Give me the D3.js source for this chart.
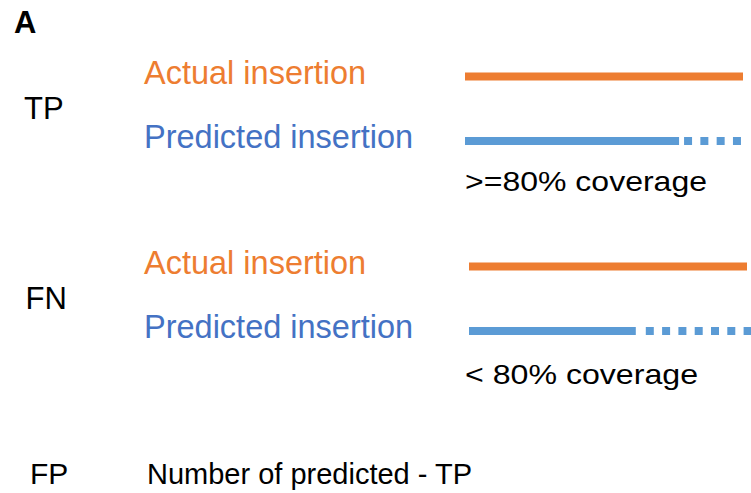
<!DOCTYPE html>
<html>
<head>
<meta charset="utf-8">
<script src="https://cdn.jsdelivr.net/npm/d3@7"></script>
<style>
  body { margin: 0; background: #fff; }
  text { font-family: "Liberation Sans", Arial, sans-serif; }
</style>
</head>
<body>
<svg id="chart" width="751" height="493"></svg>
<script>
// panel + row names
const panelLabel = "A";
const rowNames = ["TP", "FN", "FP"];
const lineNames = ["Actual insertion", "Predicted insertion"];
// share of the actual insertion covered by the prediction (solid part)
const coveredShare = [0.77, 0.60];
// where the dotted tail of the prediction stops
const tailEnd = [1.0, 1.04];
const coverageNotes = [">=80% coverage", "< 80% coverage"];
const fpNote = "Number of predicted - TP";

const orange = "#ED7D31";
const blueText = "#4472C4";
const blueLine = "#5B9BD5";

const svg = d3.select("#chart");

// vertical offset of each case block, and a small horizontal nudge for its lines
const rowTop = [0, 190];
const lineShift = [0, 4];

svg.append("text")
    .attr("x", 14)
    .attr("y", 33)
    .attr("font-size", 31)
    .attr("font-weight", "bold")
    .text(panelLabel);

rowNames.slice(0, 2).forEach(function (name, i) {
    let g = svg.append("g")
        .attr("transform", "translate(0," + rowTop[i] + ")");

    // x scale: 0 = start of the actual insertion, 1 = its end
    let x = d3.scaleLinear().domain([0, 1]).range([465, 743].map(v => v + lineShift[i]));

    g.append("text")
        .attr("x", 24 + i * 1.5)
        .attr("y", 118.5)
        .attr("font-size", 31)
        .attr("fill", "#000")
        .text(name);

    g.selectAll("text.lab")
        .data(lineNames)
        .enter()
        .append("text")
        .attr("class", "lab")
        .attr("x", 144)
        .attr("y", function (d, j) { return 84 + j * 64; })
        .attr("font-size", 32.5)
        .attr("fill", function (d, j) { return j === 0 ? orange : blueText; })
        .text(function (d) { return d; });

    // actual insertion
    g.append("line")
        .attr("x1", x(0)).attr("x2", x(1))
        .attr("y1", 76.5).attr("y2", 76.5)
        .attr("stroke", orange)
        .attr("stroke-width", 8);

    // predicted insertion: solid covered part
    g.append("line")
        .attr("x1", x(0)).attr("x2", x(coveredShare[i]))
        .attr("y1", 141).attr("y2", 141)
        .attr("stroke", blueLine)
        .attr("stroke-width", 8);

    // uncovered part dotted
    g.append("line")
        .attr("x1", x(coveredShare[i]) + 5 + i * 5).attr("x2", x(tailEnd[i]))
        .attr("y1", 141).attr("y2", 141)
        .attr("stroke", blueLine)
        .attr("stroke-width", 8)
        .attr("stroke-dasharray", "8,8.3");

    g.append("text")
        .attr("x", 465)
        .attr("y", 191 + i * 3)
        .attr("font-size", 28)
        .attr("fill", "#000")
        .attr("textLength", i === 0 ? 242 : 233)
        .attr("lengthAdjust", "spacingAndGlyphs")
        .text(coverageNotes[i]);
});

svg.append("text")
    .attr("x", 30)
    .attr("y", 483.5)
    .attr("font-size", 30)
    .text(rowNames[2]);

svg.append("text")
    .attr("x", 147)
    .attr("y", 484)
    .attr("font-size", 29)
    .text(fpNote);
</script>
</body>
</html>
